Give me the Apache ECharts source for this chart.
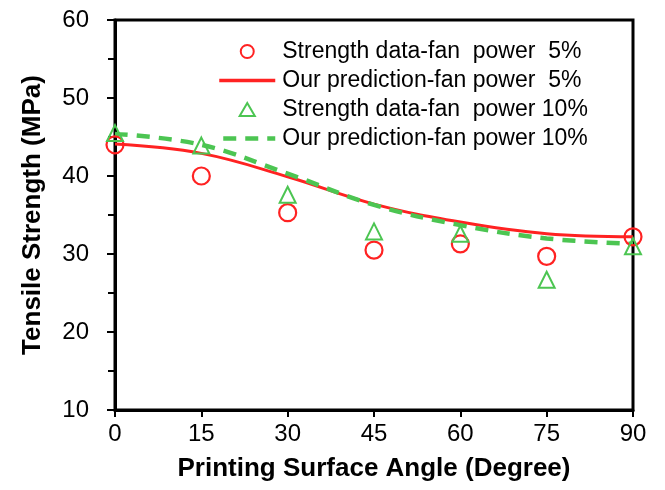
<!DOCTYPE html>
<html>
<head>
<meta charset="utf-8">
<script src="https://cdn.jsdelivr.net/npm/echarts@6/dist/echarts.min.js"></script>
<style>
html,body{margin:0;padding:0;background:#fff;}
#chart{width:665px;height:490px;}
</style>
</head>
<body>
<div id="chart"></div>
<script>
const angles = [0, 15, 30, 45, 60, 75, 90];
const data5 = [44.0, 40.0, 35.3, 30.5, 31.3, 29.7, 32.2];
const pred5 = [44.1, 42.9, 39.9, 36.4, 34.1, 32.6, 32.2];
const data10 = [45.5, 43.9, 37.6, 32.9, 32.6, 26.7, 31.0];
const pred10 = [45.4, 44.0, 40.3, 36.3, 33.7, 32.0, 31.3];
const seriesNames = [
  'Strength data-fan  power  5%',
  'Our prediction-fan power  5%',
  'Strength data-fan  power 10%',
  'Our prediction-fan power 10%'
];
const RED = '#ff2222';
const GREEN = '#4cc552';
const FONT = 'Liberation Sans';
const TRI = 'path://M7,0L14,12L0,12Z';

function pairs(xs, ys) { return xs.map((x, i) => [x, ys[i]]); }

const chart = echarts.init(document.getElementById('chart'), null, {renderer: 'canvas'});
chart.setOption({
  animation: false,
  backgroundColor: '#fff',
  textStyle: {fontFamily: FONT, color: '#000'},
  grid: {left: 115, right: 32, top: 20, bottom: 80, show: true, borderColor: '#000', borderWidth: 3},
  legend: {
    orient: 'vertical',
    left: 212,
    top: 35,
    itemWidth: 56,
    itemHeight: 13,
    itemGap: 6,
    symbolKeepAspect: true,
    textStyle: {fontFamily: FONT, fontSize: 23, color: '#000', padding: [0, 0, 0, 2]},
    data: [
      {name: seriesNames[0], icon: 'circle', itemStyle: {color: 'rgba(0,0,0,0)', borderColor: RED, borderWidth: 2, opacity: 1}},
      {name: seriesNames[1], itemStyle: {opacity: 0}, lineStyle: {color: RED, width: 3.5, type: 'solid'}},
      {name: seriesNames[2], icon: TRI, itemStyle: {color: 'rgba(0,0,0,0)', borderColor: GREEN, borderWidth: 2, opacity: 1}},
      {name: seriesNames[3], itemStyle: {opacity: 0}, lineStyle: {color: GREEN, width: 4.5, type: [13, 9], dashOffset: -4}}
    ]
  },
  xAxis: {
    type: 'value', min: 0, max: 90, interval: 15,
    name: 'Printing Surface Angle (Degree)',
    nameLocation: 'middle', nameGap: 46,
    nameTextStyle: {fontFamily: FONT, fontSize: 26, fontWeight: 'bold', color: '#000'},
    axisLine: {show: true, onZero: false, lineStyle: {color: '#000', width: 3}},
    axisTick: {show: true, inside: false, length: 7, lineStyle: {color: '#000', width: 2}},
    axisLabel: {fontFamily: FONT, fontSize: 24, color: '#000', margin: 12},
    splitLine: {show: false}
  },
  yAxis: {
    type: 'value', min: 10, max: 60, interval: 10,
    name: 'Tensile Strength (MPa)',
    nameLocation: 'middle', nameGap: 69,
    nameTextStyle: {fontFamily: FONT, fontSize: 26, fontWeight: 'bold', color: '#000'},
    axisLine: {show: true, onZero: false, lineStyle: {color: '#000', width: 3}},
    axisTick: {show: true, inside: false, length: 8, lineStyle: {color: '#000', width: 2}},
    minorTick: {show: true, splitNumber: 2, length: 7, lineStyle: {color: '#000', width: 2}},
    axisLabel: {fontFamily: FONT, fontSize: 24, color: '#000', margin: 26},
    splitLine: {show: false}
  },
  series: [
    {
      name: seriesNames[0], type: 'scatter', data: pairs(angles, data5),
      symbol: 'circle', symbolSize: 17, z: 5,
      itemStyle: {color: 'rgba(0,0,0,0)', borderColor: RED, borderWidth: 2.2, opacity: 1}
    },
    {
      name: seriesNames[1], type: 'line', data: pairs(angles, pred5),
      smooth: 0.4, symbol: 'none', z: 3,
      lineStyle: {color: RED, width: 3}, itemStyle: {color: RED}
    },
    {
      name: seriesNames[2], type: 'scatter', data: pairs(angles, data10),
      symbol: 'triangle', symbolSize: 16, z: 5,
      itemStyle: {color: 'rgba(0,0,0,0)', borderColor: GREEN, borderWidth: 2, opacity: 1}
    },
    {
      name: seriesNames[3], type: 'line', data: pairs(angles, pred10),
      smooth: 0.4, symbol: 'none', z: 4,
      lineStyle: {color: GREEN, width: 4.5, type: [13, 9]}, itemStyle: {color: GREEN}
    }
  ]
});
</script>
</body>
</html>
